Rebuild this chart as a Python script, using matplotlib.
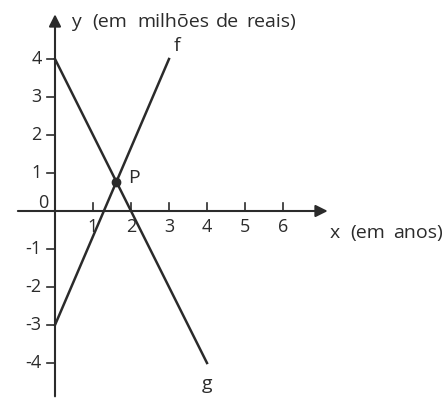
import numpy as np
import matplotlib.pyplot as plt

plt.rcParams['font.family'] = ['Open Sans', 'DejaVu Sans']

# dados das retas
f_x = [0, 3]
f_y = [-3, 4]
g_x = [0, 4]
g_y = [4, -4]
x_ticks = [1, 2, 3, 4, 5, 6]
y_ticks = [4, 3, 2, 1, -1, -2, -3, -4]

cor = '#2b2b2b'
fs = 13
fs_lab = 14

fig = plt.figure(figsize=(4.45, 3.98), dpi=100)
ax = fig.add_axes([0, 0, 1, 1])
ax.set_xlim(-55 / 38, 390 / 38)
ax.set_ylim((211 - 398) / 38, 211 / 38)
ax.axis('off')

# eixos com setas
ax.annotate('', xy=(7.25, 0), xytext=(-1.05, 0),
            arrowprops=dict(arrowstyle='-|>', color=cor, lw=1.5, mutation_scale=18))
ax.annotate('', xy=(0, 5.25), xytext=(0, -4.95),
            arrowprops=dict(arrowstyle='-|>', color=cor, lw=1.5, mutation_scale=18))

# marcas
for t in x_ticks:
    ax.plot([t, t], [0, 0.2], color=cor, lw=1.2)
    ax.text(t, -0.42, str(t), ha='center', va='center', fontsize=fs, color=cor)
for t in y_ticks:
    ax.plot([-0.2, 0], [t, t], color=cor, lw=1.2)
    ax.text(-0.35, t, str(t), ha='right', va='center', fontsize=fs, color=cor)
ax.text(-0.3, 0.2, '0', ha='center', va='center', fontsize=fs, color=cor)

# retas f e g
ax.plot(f_x, f_y, color=cor, lw=1.8)
ax.plot(g_x, g_y, color=cor, lw=1.8)

# ponto P (interseção)
af = (f_y[1] - f_y[0]) / (f_x[1] - f_x[0])
ag = (g_y[1] - g_y[0]) / (g_x[1] - g_x[0])
px = (g_y[0] - f_y[0]) / (af - ag)
py = f_y[0] + af * px
ax.plot(px, py, 'o', color=cor, ms=6)
ax.text(px + 0.3, py + 0.1, 'P', ha='left', va='center', fontsize=fs_lab, color=cor)

ax.text(3.2, 4.35, 'f', ha='center', va='center', fontsize=fs_lab, color=cor)
ax.text(4.0, -4.55, 'g', ha='center', va='center', fontsize=fs_lab, color=cor)

# rótulos dos eixos (palavras espaçadas como no original)
for word, xc in [('y', 0.55), ('(em', 1.45), ('milhões', 3.12), ('de', 4.55), ('reais)', 5.70)]:
    ax.text(xc, 4.97, word, ha='center', va='center', fontsize=fs_lab, color=cor)
for word, xc in [('x', 7.37), ('(em', 8.22), ('anos)', 9.55)]:
    ax.text(xc, -0.58, word, ha='center', va='center', fontsize=fs_lab, color=cor)

plt.savefig('out.png', dpi=100)
